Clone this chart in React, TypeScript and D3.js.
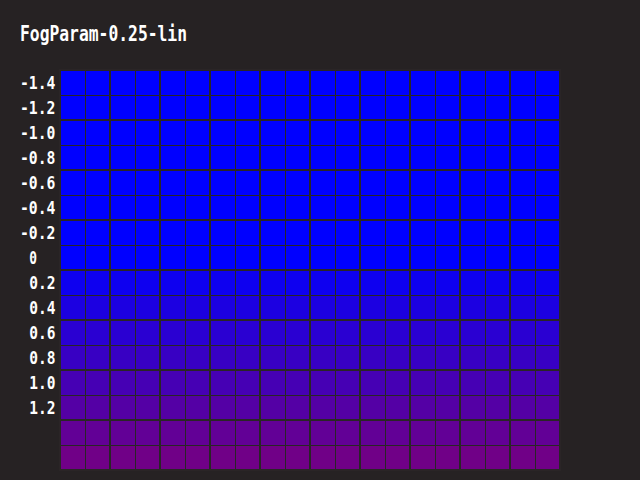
import * as d3 from "d3";

// chart text
const title = "FogParam-0.25-lin";
const yTickLabels = ["-1.4", "-1.2", "-1.0", "-0.8", "-0.6", "-0.4", "-0.2", "0", "0.2", "0.4", "0.6", "0.8", "1.0", "1.2"];

// one entry per strip row (top to bottom) and its fog colour
const rowValues = [-1.4, -1.2, -1.0, -0.8, -0.6, -0.4, -0.2, 0, 0.2, 0.4, 0.6, 0.8, 1.0, 1.2, 1.4, 1.6];
const rowColors = [
    "#0000ff", "#0000ff", "#0000ff", "#0000ff",
    "#0000ff", "#0000ff", "#0000ff", "#0000ff",
    "#0e00f0", "#1c00e1", "#2a00d2", "#3800c3",
    "#4600b4", "#5400a5", "#620096", "#700087",
];

// major columns of the grid
const columns = ["c0", "c1", "c2", "c3", "c4", "c5", "c6", "c7", "c8", "c9"];

const W = 640;
const H = 480;
const BG = "#262223";
const LINE = "#2a2526";
const CHAR_W = 9.25; // label cell width of the pixel font
const plot = { left: 60, right: 560, top: 70, bottom: 470 };

export default function App() {
    const x = d3.scaleBand<string>().domain(columns).range([plot.left, plot.right]);
    const y = d3.scaleBand<number>().domain(rowValues).range([plot.top, plot.bottom]);
    const colW = x.bandwidth();
    const rowH = y.bandwidth();

    // vertical boundaries: major at column edges, minor at column middles
    const vMajor = columns.map(c => x(c)!).concat([plot.right]);
    const vMinor = columns.map(c => x(c)! + colW / 2);
    // horizontal: every second row edge is a major line
    const hLines = rowValues.map((v, i) => ({ pos: y(v)!, major: i % 2 === 0 })).concat([{ pos: plot.bottom, major: true }]);

    return (
        <div style={{ position: "fixed", left: 0, top: 0 }}>
            <svg width={W} height={H} style={{ display: "block" }}>
                <rect x={0} y={0} width={W} height={H} fill={BG} />
                <text
                    x={20}
                    y={41}
                    fill="#ffffff"
                    fontFamily="DejaVu Sans Mono"
                    fontWeight="bold"
                    fontSize={21}
                    textLength={167}
                    lengthAdjust="spacingAndGlyphs"
                >
                    {title}
                </text>

                {rowValues.map((v, i) => (
                    <rect key={v} x={plot.left} y={y(v)!} width={plot.right - plot.left} height={rowH} fill={rowColors[i]} />
                ))}

                {vMinor.map(p => (
                    <line key={"vm" + p} x1={p + 0.5} x2={p + 0.5} y1={plot.top} y2={plot.bottom} stroke={LINE} strokeWidth={1} />
                ))}
                {hLines.filter(d => !d.major).map(d => (
                    <line key={"hm" + d.pos} x1={plot.left} x2={plot.right} y1={d.pos + 0.5} y2={d.pos + 0.5} stroke={LINE} strokeWidth={1} />
                ))}
                {vMajor.map(p => (
                    <line key={"vM" + p} x1={p} x2={p} y1={plot.top - 1} y2={plot.bottom + 1} stroke={LINE} strokeWidth={2} />
                ))}
                {hLines.filter(d => d.major).map(d => (
                    <line key={"hM" + d.pos} x1={plot.left - 1} x2={plot.right + 1} y1={d.pos} y2={d.pos} stroke={LINE} strokeWidth={2} />
                ))}

                {yTickLabels.map((t, i) => (
                    <text
                        key={t}
                        x={t.startsWith("-") ? 20 : 20 + CHAR_W}
                        y={y(rowValues[i])! + rowH / 2 + 6.5}
                        fill="#ffffff"
                        fontFamily="DejaVu Sans Mono"
                        fontWeight="bold"
                        fontSize={18}
                        textLength={t.length * CHAR_W - 1.5}
                        lengthAdjust="spacingAndGlyphs"
                    >
                        {t}
                    </text>
                ))}
            </svg>
        </div>
    );
}
